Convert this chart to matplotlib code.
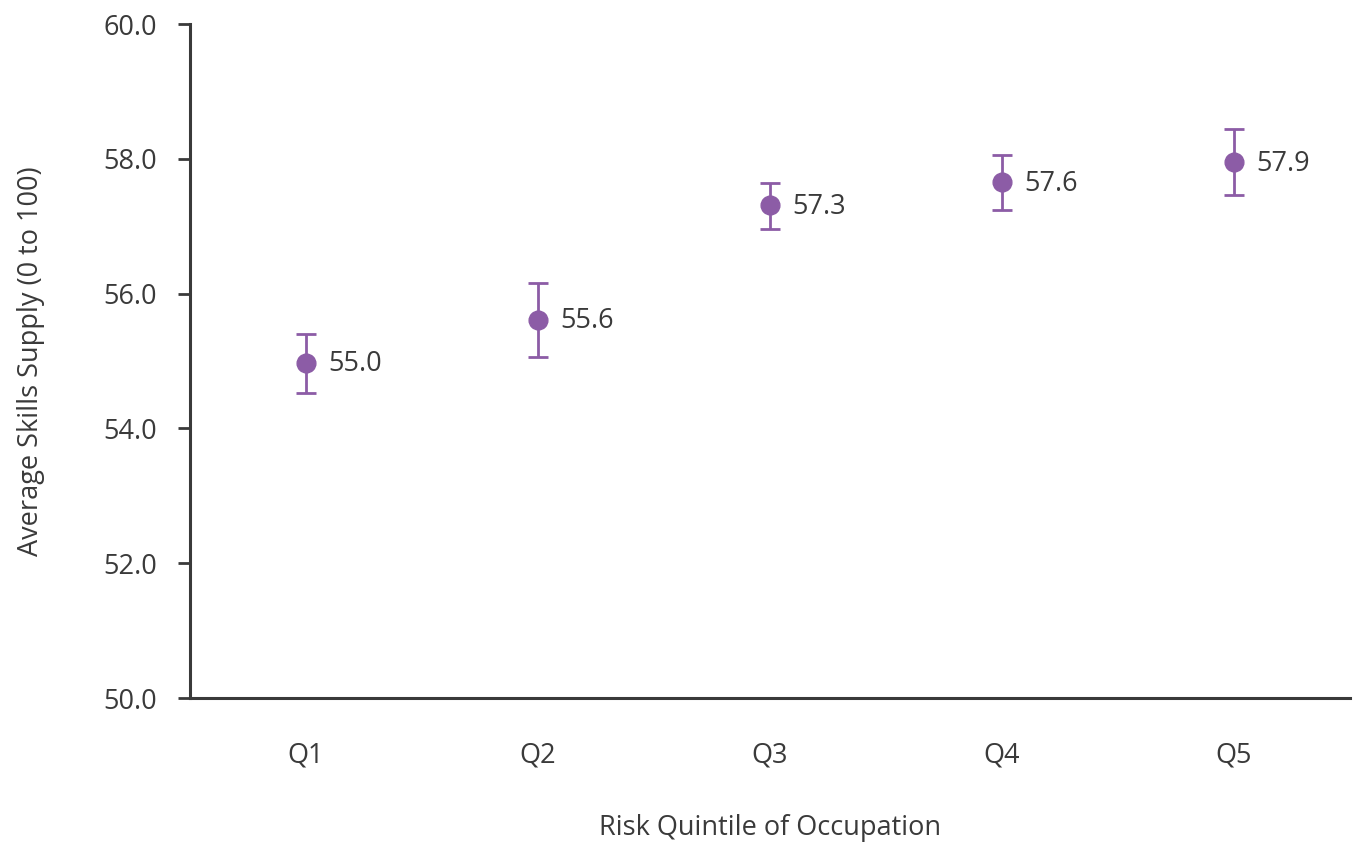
import matplotlib
matplotlib.use("Agg")
import matplotlib.pyplot as plt
import numpy as np

categories = ["Q1", "Q2", "Q3", "Q4", "Q5"]
means = [54.97, 55.61, 57.31, 57.65, 57.95]
upper = [55.40, 56.16, 57.64, 58.06, 58.44]
lower = [54.53, 55.06, 56.96, 57.24, 57.46]
labels = ["55.0", "55.6", "57.3", "57.6", "57.9"]
yticks = [50.0, 52.0, 54.0, 56.0, 58.0, 60.0]

plt.rcParams['font.family'] = ['Open Sans', 'DejaVu Sans']
text_color = "#3a3a3a"
purple = "#8c5ca6"
fs = 19.5

fig = plt.figure(figsize=(13.55, 8.43), dpi=100)
ax = fig.add_axes([0.1402, 0.172, 0.9963 - 0.1402, 0.9715 - 0.172])

x = np.arange(len(categories))
m = np.array(means)
yerr = np.vstack([m - np.array(lower), np.array(upper) - m])
ax.errorbar(x, m, yerr=yerr, fmt='o', color=purple, ecolor=purple,
            markersize=13.5, elinewidth=2, capsize=7, capthick=2)
for xi, yi, lab in zip(x, m, labels):
    ax.annotate(lab, (xi, yi), xytext=(16, -1), textcoords='offset points',
                ha='left', va='center', fontsize=fs, color=text_color)

ax.set_xlim(-0.5, 4.5)
ax.set_ylim(50, 60)
ax.set_xticks(x)
ax.set_xticklabels(categories)
ax.set_yticks(yticks)
ax.set_yticklabels([f"{t:.1f}" for t in yticks])
ax.tick_params(axis='x', length=0, pad=31, labelsize=fs, colors=text_color)
ax.tick_params(axis='y', length=9, width=2, pad=15, labelsize=fs,
               colors=text_color, color=text_color)
for s in ['top', 'right']:
    ax.spines[s].set_visible(False)
for s in ['left', 'bottom']:
    ax.spines[s].set_color(text_color)
    ax.spines[s].set_linewidth(2.2)
ax.set_xlabel("Risk Quintile of Occupation", fontsize=fs, color=text_color, labelpad=32)
ax.set_ylabel("Average Skills Supply (0 to 100)", fontsize=fs, color=text_color, labelpad=42)

fig.savefig("out.png", dpi=100)
